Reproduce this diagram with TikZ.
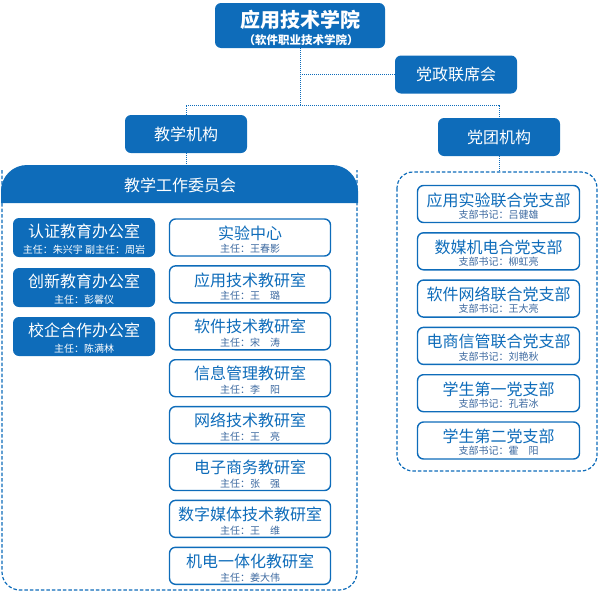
\documentclass[tikz,border=0pt]{standalone}
\usepackage{fontspec}
\setmainfont{Noto Sans CJK SC}
\definecolor{mainblue}{RGB}{14,108,186}
\definecolor{subblue}{RGB}{60,105,160}
\tikzset{
  conn/.style={mainblue, line width=1pt, dash pattern=on 1pt off 1pt},
  cont/.style={mainblue, line width=1.2pt, dash pattern=on 3.5pt off 2pt},
  fillbox/.style={fill=mainblue, rounded corners=6pt, minimum width=142pt, minimum height=39pt, inner sep=0pt},
  linebox/.style={draw=mainblue, line width=1.4pt, fill=white, rounded corners=6pt, minimum width=161pt, minimum height=37pt, inner sep=0pt},
  partybox/.style={linebox, minimum width=162pt, minimum height=37pt},
  headbox/.style={fill=mainblue, rounded corners=6pt, minimum width=122pt, minimum height=38pt, inner sep=0pt, text=white, font=\fontsize{16}{16}\selectfont},
  filltitle/.style={text=white, inner sep=0pt, font=\fontsize{16}{16}\selectfont},
  fillsub/.style={text=white, inner sep=0pt, font=\fontsize{10}{10}\selectfont},
  linetitle/.style={text=mainblue, inner sep=0pt, font=\fontsize{16}{16}\selectfont},
  linesub/.style={text=subblue, inner sep=0pt, font=\fontsize{10}{10}\selectfont},
  partytitle/.style={linetitle},
  partysub/.style={linesub},
}
% #1 kind, #2 name, #3 x, #4 y, #5 title, #6 subtitle, #7 title shift, #8 sub shift
\newcommand\orgbox[8]{%
  \node[#1box] (#2) at (#3,#4) {};
  \node[#1title] (#2t) at ([yshift=#7]#2.center) {#5};
  \node[#1sub] (#2s) at ([yshift=#8]#2.center) {#6};}
\begin{document}
\begin{tikzpicture}[x=1pt,y=-1pt]
\useasboundingbox (0,0) rectangle (599,592);

% containers
\draw[cont, rounded corners=18pt] (2,170) -- (2,590) -- (357,590) -- (357,170);
\fill[mainblue, rounded corners=26pt] (1,203) -- (1,165) -- (358,165) -- (358,203);
\node[text=white, inner sep=0pt, font=\fontsize{16}{16}\selectfont] (hdr) at (180,185) {教学工作委员会};
\draw[cont, rounded corners=16pt] (397,172) rectangle (597,471);

% top levels
\node[headbox, minimum width=170pt, minimum height=45pt] (top) at (300,25.5) {};
\node[text=white, inner sep=0pt, font=\bfseries\fontsize{20}{20}\selectfont] (topt) at (300,19.5) {应用技术学院};
\node[text=white, inner sep=0pt, font=\bfseries\fontsize{11.5}{11.5}\selectfont] (tops) at (301,40) {（软件职业技术学院）};
\node[headbox] (dz) at (456,74.5) {党政联席会};
\node[headbox] (jx) at (186,134) {教学机构};
\node[headbox] (dt) at (499,137) {党团机构};

% connectors
\coordinate (hub) at (300,105);
\coordinate (ltop) at (186,165);
\coordinate (rtop) at (499,172);
\draw[conn] (top.south) -- (hub);
\draw[conn] (top.south |- dz.west) -- (dz.west);
\draw[conn] (jx.north) |- (hub) -| (dt.north);
\draw[conn] (jx.south) -- (ltop);
\draw[conn] (dt.south) -- (rtop);

% left column (filled)
\orgbox{fill}{a1}{84}{237.5}{认证教育办公室}{主任：朱兴宇 副主任：周岩}{6.5pt}{-12.5pt}
\orgbox{fill}{a2}{84}{287.5}{创新教育办公室}{主任：彭馨仪}{6.5pt}{-12.5pt}
\orgbox{fill}{a3}{84}{336.5}{校企合作办公室}{主任：陈满林}{6.5pt}{-12.5pt}

% right column (outlined)
\orgbox{line}{b1}{250}{237.5}{实验中心}{主任：王春影}{4.5pt}{-11.5pt}
\orgbox{line}{b2}{250}{284.4}{应用技术教研室}{主任：王　璐}{4.5pt}{-11.5pt}
\orgbox{line}{b3}{250}{331.3}{软件技术教研室}{主任：宋　涛}{4.5pt}{-11.5pt}
\orgbox{line}{b4}{250}{378.2}{信息管理教研室}{主任：李　阳}{4.5pt}{-11.5pt}
\orgbox{line}{b5}{250}{425.1}{网络技术教研室}{主任：王　亮}{4.5pt}{-11.5pt}
\orgbox{line}{b6}{250}{472.0}{电子商务教研室}{主任：张　强}{4.5pt}{-11.5pt}
\orgbox{line}{b7}{250}{518.9}{数字媒体技术教研室}{主任：王　维}{4.5pt}{-11.5pt}
\orgbox{line}{b8}{250}{565.8}{机电一体化教研室}{主任：姜大伟}{4.5pt}{-11.5pt}

% party branches
\orgbox{party}{c1}{498.5}{204}{应用实验联合党支部}{支部书记：吕健雄}{4pt}{-10.5pt}
\orgbox{party}{c2}{498.5}{251.3}{数媒机电合党支部}{支部书记：柳虹亮}{4pt}{-10.5pt}
\orgbox{party}{c3}{498.5}{298.6}{软件网络联合党支部}{支部书记：王大亮}{4pt}{-10.5pt}
\orgbox{party}{c4}{498.5}{345.9}{电商信管联合党支部}{支部书记：刘艳秋}{4pt}{-10.5pt}
\orgbox{party}{c5}{498.5}{393.2}{学生第一党支部}{支部书记：孔若冰}{4pt}{-10.5pt}
\orgbox{party}{c6}{498.5}{440.5}{学生第二党支部}{支部书记：霍　阳}{4pt}{-10.5pt}
\end{tikzpicture}
\end{document}
